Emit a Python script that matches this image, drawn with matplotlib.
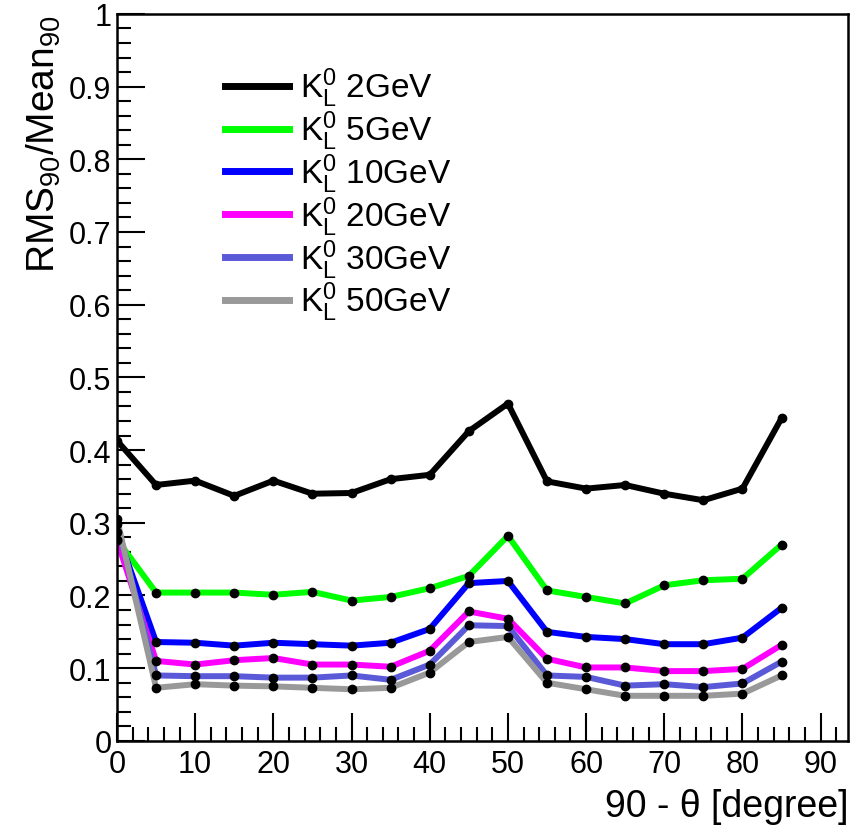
import numpy as np
import matplotlib
matplotlib.use("Agg")
import matplotlib.pyplot as plt
from matplotlib.ticker import MultipleLocator, FuncFormatter

plt.rcParams['font.family'] = ['Liberation Sans', 'DejaVu Sans']
plt.rcParams['mathtext.fontset'] = 'custom'
plt.rcParams['mathtext.rm'] = 'Liberation Sans'
plt.rcParams['mathtext.it'] = 'Liberation Sans'
plt.rcParams['mathtext.bf'] = 'Liberation Sans'

# angle points (90 - theta, degree)
angle = [0, 5, 10, 15, 20, 25, 30, 35, 40, 45, 50, 55, 60, 65, 70, 75, 80, 85]

rms_2gev = [0.413, 0.352, 0.358, 0.337, 0.358, 0.340, 0.341, 0.360, 0.366, 0.426,
            0.464, 0.357, 0.347, 0.352, 0.340, 0.331, 0.347, 0.444]
rms_5gev = [0.277, 0.204, 0.204, 0.204, 0.201, 0.205, 0.193, 0.198, 0.210, 0.227,
            0.282, 0.207, 0.198, 0.189, 0.214, 0.221, 0.223, 0.270]
rms_10gev = [0.287, 0.136, 0.135, 0.131, 0.135, 0.133, 0.131, 0.135, 0.154, 0.217,
             0.220, 0.150, 0.143, 0.140, 0.133, 0.133, 0.142, 0.183]
rms_20gev = [0.276, 0.110, 0.105, 0.111, 0.114, 0.105, 0.105, 0.102, 0.124, 0.178,
             0.168, 0.113, 0.101, 0.101, 0.096, 0.096, 0.099, 0.132]
rms_30gev = [0.298, 0.090, 0.089, 0.089, 0.087, 0.087, 0.090, 0.084, 0.105, 0.159,
             0.158, 0.090, 0.088, 0.076, 0.078, 0.074, 0.079, 0.109]
rms_50gev = [0.305, 0.073, 0.078, 0.076, 0.075, 0.073, 0.071, 0.073, 0.094, 0.136,
             0.143, 0.080, 0.071, 0.062, 0.062, 0.062, 0.065, 0.090]

series = [rms_2gev, rms_5gev, rms_10gev, rms_20gev, rms_30gev, rms_50gev]
labels = ['2GeV', '5GeV', '10GeV', '20GeV', '30GeV', '50GeV']
colors = ['#000000', '#00ff00', '#0000ff', '#ff00ff', '#5a5ad8', '#999999']

fig = plt.figure(figsize=(8.54, 8.28), dpi=100)
ax = fig.add_axes([0.137, 0.104, 0.856, 0.878])

for y, lab, c in zip(series, labels, colors):
    ax.plot(angle, y, '-', color=c, lw=4.3, label=r'$\mathregular{K^0_L}$ ' + lab)
    ax.plot(angle, y, 'o', color='black', ms=6, zorder=3)

ax.set_xlim(0, 93.5)
ax.set_ylim(0, 1)
ax.xaxis.set_major_locator(MultipleLocator(10))
ax.xaxis.set_minor_locator(MultipleLocator(2))
ax.yaxis.set_major_locator(MultipleLocator(0.1))
ax.yaxis.set_minor_locator(MultipleLocator(0.02))
ax.yaxis.set_major_formatter(FuncFormatter(lambda v, p: '%g' % round(v, 2)))
ax.tick_params(which='both', direction='in', top=False, right=False, labelsize=22, width=1.5)
ax.tick_params(which='major', length=20)
ax.tick_params(which='minor', length=10)
ax.tick_params(axis='x', pad=6)
ax.tick_params(axis='y', pad=4)
for s in ax.spines.values():
    s.set_linewidth(1.8)

ax.set_ylabel(r'RMS$\mathregular{_{90}}$/Mean$\mathregular{_{90}}$', fontsize=28, loc='top', labelpad=4)
ax.set_xlabel('90 - θ [degree]', fontsize=27, loc='right', labelpad=6)

leg = ax.legend(loc='upper left', bbox_to_anchor=(0.13, 0.947), frameon=False, fontsize=24,
                handlelength=1.9, handletextpad=0.35, labelspacing=-0.02, borderaxespad=0)
for l in leg.get_lines():
    l.set_linewidth(5)

fig.savefig('out.png', dpi=100)
